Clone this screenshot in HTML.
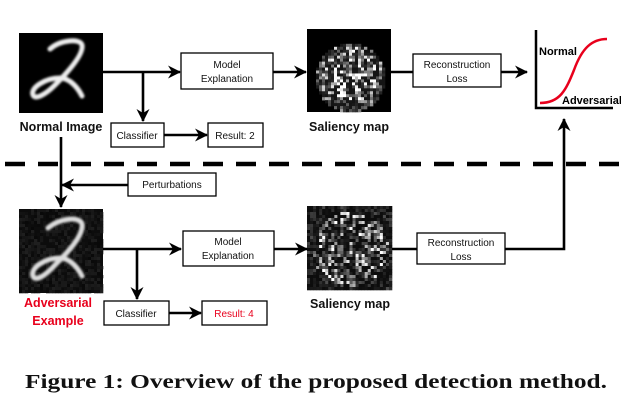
<!DOCTYPE html>
<html><head><meta charset="utf-8"><style>
html,body{margin:0;padding:0;background:#fff;width:621px;height:403px;overflow:hidden}
svg{display:block}
.b{fill:#fff;stroke:#000;stroke-width:1.3}
.t{font-family:"Liberation Sans",sans-serif;font-size:10px;fill:#111;text-anchor:middle}
.bl{font-family:"Liberation Sans",sans-serif;font-weight:bold;font-size:12.5px;fill:#111;text-anchor:middle}
.l{stroke:#000;stroke-width:2.6;fill:none}
</style></head><body>
<svg id="s" width="621" height="403" viewBox="0 0 621 403" xmlns="http://www.w3.org/2000/svg">
<defs>
<marker id="a" markerWidth="13" markerHeight="13" refX="12" refY="6.5" orient="auto" markerUnits="userSpaceOnUse"><path d="M0,0 L13,6.5 L0,13 L4,6.5 z" fill="#000"/></marker>
<filter id="bl"><feGaussianBlur stdDeviation="1.1"/></filter>
<clipPath id="c1"><rect x="19" y="33" width="84" height="80"/></clipPath>
<clipPath id="c2"><rect x="19" y="209" width="84" height="84"/></clipPath>
</defs>
<rect x="19" y="33" width="84" height="80" fill="#000"/>
<g clip-path="url(#c1)" filter="url(#bl)">
<path d="M50,49 C60,40 80,38 82,45 C84,55 65,75 55,85 C45,95 35,100 33,95 C30,88 45,78 60,78 C70,78 78,88 82,96" stroke="#eee" stroke-width="5" fill="none" stroke-linecap="round"/>
</g>
<rect x="19" y="209" width="84" height="84" fill="#0c0c0c"/>
<g id="noise2"></g>
<g clip-path="url(#c2)" filter="url(#bl)">
<path d="M48,228 C60,218 80,216 82,224 C84,236 65,255 55,265 C45,276 35,282 33,276 C30,268 45,258 60,258 C70,258 78,268 82,276" stroke="#ddd" stroke-width="5" fill="none" stroke-linecap="round"/>
</g>
<rect x="307" y="29" width="84" height="83" fill="#000"/>
<g id="sal1" filter="url(#sb)"></g>
<rect x="307" y="206" width="85" height="84" fill="#000"/>
<g id="sal2"></g>
<text class="bl" x="61" y="131">Normal Image</text>
<text class="bl" x="349" y="131">Saliency map</text>
<text class="bl" x="350" y="308">Saliency map</text>
<text class="bl" x="58" y="307" style="fill:#e8001c">Adversarial</text>
<text class="bl" x="58" y="325" style="fill:#e8001c">Example</text>
<path class="l" d="M103,72 H180" marker-end="url(#a)"/>
<path class="l" d="M143,72 V121" marker-end="url(#a)"/>
<rect class="b" x="181" y="53" width="92" height="36"/>
<text class="t" x="227" y="68">Model</text><text class="t" x="227" y="82">Explanation</text>
<path class="l" d="M273,72 H306" marker-end="url(#a)"/>
<rect class="b" x="111" y="123" width="53" height="24"/>
<text class="t" x="137" y="139">Classifier</text>
<path class="l" d="M164,135 H207" marker-end="url(#a)"/>
<rect class="b" x="208" y="123" width="55" height="24"/>
<text class="t" x="235" y="139">Result: 2</text>
<path class="l" d="M391,72 H413"/>
<rect class="b" x="413" y="54" width="88" height="33"/>
<text class="t" x="457" y="68">Reconstruction</text><text class="t" x="457" y="82">Loss</text>
<path class="l" d="M501,72 H527" marker-end="url(#a)"/>
<path d="M536,30 V108 H613" stroke="#000" stroke-width="2.5" fill="none"/>
<path d="M540,103 C560,103 566,90 574,70 C582,48 592,39 607,39" stroke="#e8001c" stroke-width="2.5" fill="none"/>
<text x="539" y="55" style="font-family:'Liberation Sans',sans-serif;font-weight:bold;font-size:11px">Normal</text>
<text x="562" y="104" style="font-family:'Liberation Sans',sans-serif;font-weight:bold;font-size:11px">Adversarial</text>
<path d="M5,164 H621" stroke="#000" stroke-width="4.5" stroke-dasharray="20,13"/>
<path class="l" d="M61,137 V207" marker-end="url(#a)"/>
<rect class="b" x="128" y="173" width="88" height="23"/>
<text class="t" x="172" y="188">Perturbations</text>
<path class="l" d="M128,185 H62" marker-end="url(#a)"/>
<path class="l" d="M103,249 H181" marker-end="url(#a)"/>
<path class="l" d="M137,249 V299" marker-end="url(#a)"/>
<rect class="b" x="183" y="231" width="91" height="35"/>
<text class="t" x="228" y="245">Model</text><text class="t" x="228" y="259">Explanation</text>
<path class="l" d="M274,249 H307" marker-end="url(#a)"/>
<rect class="b" x="104" y="301" width="65" height="24"/>
<text class="t" x="136" y="317">Classifier</text>
<path class="l" d="M169,313 H201" marker-end="url(#a)"/>
<rect class="b" x="202" y="301" width="65" height="24"/>
<text class="t" x="234" y="317" style="fill:#e8001c">Result: 4</text>
<path class="l" d="M392,249 H417"/>
<rect class="b" x="417" y="233" width="88" height="31"/>
<text class="t" x="461" y="246">Reconstruction</text><text class="t" x="461" y="260">Loss</text>
<path class="l" d="M505,249 H564 V119" marker-end="url(#a)"/>
<text x="25" y="388" textLength="582" lengthAdjust="spacingAndGlyphs" style="font-family:'Liberation Serif',serif;font-weight:bold;font-size:20px;fill:#111">Figure 1: Overview of the proposed detection method.</text>
</svg>
<script>
var seed=7;function r(){seed=(seed*16807)%2147483647;return seed/2147483647;}
function grid(id,x0,y0,w,h,f){var g=document.getElementById(id),s='';var n=28,cw=w/n,ch=h/n;
for(var i=0;i<n;i++)for(var j=0;j<n;j++){var v=f(i,j);if(v>8){v=Math.min(255,Math.round(v));s+='<rect x="'+(x0+i*cw).toFixed(2)+'" y="'+(y0+j*ch).toFixed(2)+'" width="'+(cw+0.3).toFixed(2)+'" height="'+(ch+0.3).toFixed(2)+'" fill="rgb('+v+','+v+','+v+')"/>';}}
g.innerHTML=s;}
grid('sal1',307,29,84,83,function(i,j){var dx=(i-14)/11,dy=(j-16)/11;var d=dx*dx+dy*dy;if(d>1.1||j<3)return 0;var a=r();return a*a*a*300*(1.2-d*0.5)+20;});
grid('sal2',307,206,85,84,function(i,j){var dx=(i-14)/12,dy=(j-14)/12;var d=dx*dx+dy*dy;var a=r();return a*a*a*(d<1.1?260:70)+12;});
grid('noise2',19,209,84,84,function(i,j){return r()*32;});
</script>
</body></html>
